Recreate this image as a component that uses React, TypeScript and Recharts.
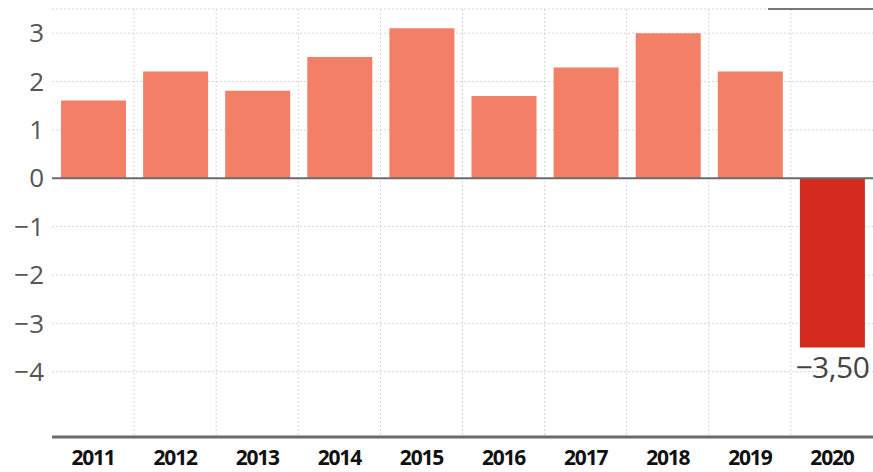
import React from "react";
import { BarChart, Bar, XAxis, YAxis, CartesianGrid, ReferenceLine, Cell, LabelList } from "recharts";

const years = ["2011", "2012", "2013", "2014", "2015", "2016", "2017", "2018", "2019", "2020"];
const growth = [1.61, 2.21, 1.81, 2.51, 3.1, 1.7, 2.29, 3.0, 2.21, -3.5];
const yTicks = [3, 2, 1, 0, -1, -2, -3, -4];

const data = years.map((y, i) => ({ year: y, value: growth[i] }));

const POS = "#F27F66";
const NEG = "#D52B1E";

const fmtTick = (v: number) => String(v).replace("-", "\u2212");
const fmtLabel = (v: number) => v.toFixed(2).replace(".", ",").replace("-", "\u2212");

const renderLabel = (props: any) => {
  const { x, y, width, height, value } = props;
  if (value >= 0) return null;
  const bottom = Math.max(Number(y), Number(y) + Number(height));
  return (
    <text
      x={Number(x) + Number(width) / 2}
      y={bottom + 30}
      textAnchor="middle"
      fontFamily="'Open Sans', sans-serif"
      fontSize={30}
      fill="#444"
      letterSpacing={-0.5}
    >
      {fmtLabel(value)}
    </text>
  );
};

export default function App() {
  return (
    <div style={{ position: "absolute", left: 0, top: 0, width: 873, height: 472, background: "#fff" }}>
      <BarChart width={873} height={472} data={data} margin={{ top: 9, right: 0, left: 0, bottom: 0 }}>
        <CartesianGrid
          stroke="#d6d6d6"
          strokeDasharray="2 2"
          horizontal={true}
          vertical={true}
          verticalCoordinatesGenerator={({ offset }: any) =>
            Array.from({ length: years.length - 1 }, (_, i) => offset.left + ((i + 1) * offset.width) / years.length)
          }
        />
        <XAxis
          dataKey="year"
          height={35}
          tickLine={false}
          tickSize={0}
          tickMargin={13}
          axisLine={{ stroke: "#6b6b6b", strokeWidth: 3 }}
          tick={{ fill: "#111", fontSize: 21, fontWeight: 700, fontFamily: "'Open Sans', sans-serif", letterSpacing: -1.2 }}
          interval={0}
        />
        <YAxis
          width={52}
          domain={[-5.35, 3.5]}
          ticks={yTicks}
          tickFormatter={fmtTick}
          axisLine={false}
          tickLine={false}
          tickSize={0}
          tickMargin={8}
          tick={{ fill: "#555", fontSize: 26, fontFamily: "'Open Sans', sans-serif" }}
        />
        <Bar dataKey="value" barSize={65} isAnimationActive={false}>
          {data.map((d, i) => (
            <Cell key={i} fill={d.value < 0 ? NEG : POS} />
          ))}
          <LabelList dataKey="value" content={renderLabel} />
        </Bar>
        <ReferenceLine y={0} stroke="#6b6b6b" strokeWidth={2} />
      </BarChart>
      <div style={{ position: "absolute", left: 768, top: 8, width: 105, height: 2, background: "#777" }} />
    </div>
  );
}
